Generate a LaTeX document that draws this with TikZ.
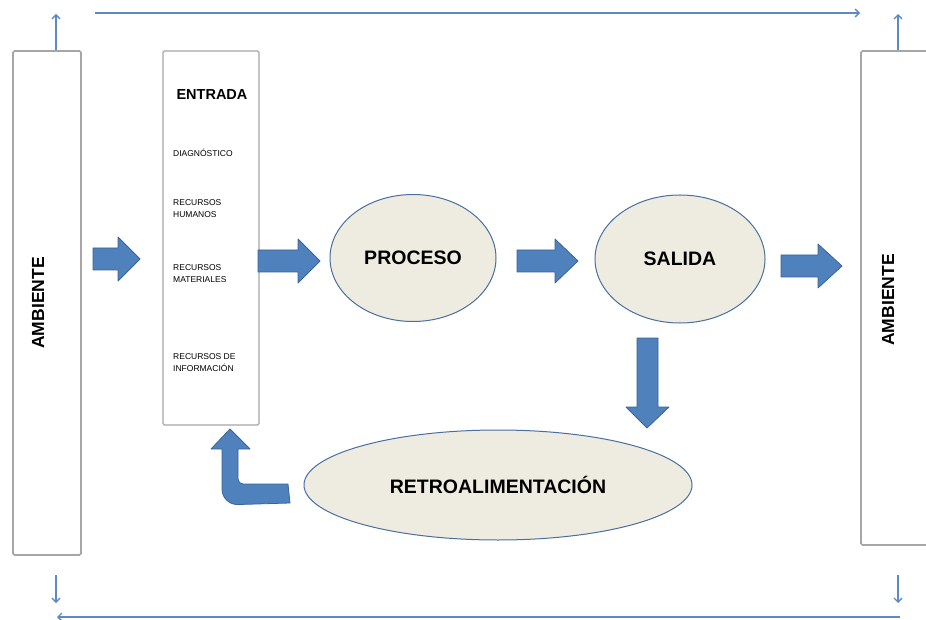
\documentclass[tikz,border=0pt]{standalone}
\usepackage{fontspec}
\setmainfont{Liberation Sans}
\usetikzlibrary{arrows.meta,shapes.geometric,calc}
\definecolor{arrfill}{HTML}{4F81BD}
\definecolor{arrdraw}{HTML}{3A6494}
\definecolor{ellfill}{HTML}{EEECE1}
\definecolor{elldraw}{HTML}{4A6EA0}
\definecolor{boxgray}{HTML}{A6A6A6}
\definecolor{linblue}{HTML}{5B8AC6}
\newcommand\barrowR[4]{\draw[barrow] (#1,{#4-11}) -- (#3,{#4-11}) -- (#3,{#4-22}) -- (#2,#4) -- (#3,{#4+22}) -- (#3,{#4+11}) -- (#1,{#4+11}) -- cycle;}
\begin{document}
\begin{tikzpicture}[x=1pt,y=-1pt,
  ambox/.style={draw=boxgray,line width=1.6pt,rounded corners=1.5pt,fill=white,minimum width=#1,inner sep=0pt},
  ell/.style={ellipse,draw=elldraw,line width=1pt,fill=ellfill,inner sep=0pt,font=\bfseries\fontsize{19.5}{21}\selectfont},
  barrow/.style={fill=arrfill,draw=arrdraw,line width=0.8pt,line join=round},
  thin/.style={draw=linblue,line width=1.3pt,-{Straight Barb[length=4pt,width=8pt]}},
  small/.style={anchor=west,font=\fontsize{8.5}{12}\selectfont,align=left,inner sep=0pt},
  amb/.style={rotate=90,font=\bfseries\fontsize{17.5}{19}\selectfont}]
\useasboundingbox (0,0) rectangle (926,620);
% ambient boxes
\node[ambox=68pt,minimum height=504pt] (amb1) at (47,303) {};
\node[amb] (ambt1) at (38,303) {AMBIENTE};
\node[ambox=72pt,minimum height=494pt] (amb2) at (897,298) {};
\node[amb] (ambt2) at (888,300) {AMBIENTE};
% entrada box
\node[ambox=96pt,minimum height=374pt,line width=1.2pt] (ent) at (211,238) {};
\node[font=\bfseries\fontsize{14.5}{16}\selectfont] (enttxt) at (212,95) {ENTRADA};
\node[small] (diag) at (173,153) {DIAGNÓSTICO};
\node[small] (rh) at (173,209) {RECURSOS\\HUMANOS};
\node[small] (rm) at (173,274) {RECURSOS\\MATERIALES};
\node[small] (ri) at (173,363) {RECURSOS DE\\INFORMACIÓN};
% ellipses
\node[ell,minimum width=166pt,minimum height=127pt] (proc) at (413,258) {PROCESO};
\node[ell,minimum width=170pt,minimum height=128pt] (sal) at (680,259) {SALIDA};
\node[ell,minimum width=388pt,minimum height=110pt] (retro) at (498,485) {RETROALIMENTACIÓN};
% block arrows
\barrowR{93}{140}{118}{259}
\barrowR{258}{320}{298}{261}
\barrowR{517}{578}{555}{261}
\barrowR{781}{842}{818}{266}
\draw[barrow] (637,338) -- (658,338) -- (658,407) -- (669,407) -- (647,428) -- (626,407) -- (637,407) -- cycle;
% curved return arrow
\draw[barrow] (288,484) [rounded corners=5pt] -- (238,484) [sharp corners] -- (238,449) -- (250,449) -- (230,429) -- (211,449) -- (222,449)
  [rounded corners=16pt] -- (222,505) [sharp corners] -- (290,503) -- cycle;
% thin arrows
\coordinate (upL) at (56,14);
\coordinate (upR) at (898,14);
\draw[thin] (amb1.north -| upL) -- (upL);
\draw[thin] (amb2.north -| upR) -- (upR);
\coordinate (tl) at (95,13);
\coordinate (tr) at (860,13);
\draw[thin] (tl) -- (tr);
\coordinate (dL1) at (56,575);
\coordinate (dL2) at (56,603);
\coordinate (dR1) at (898,575);
\coordinate (dR2) at (898,603);
\draw[thin] (dL1) -- (dL2);
\draw[thin] (dR1) -- (dR2);
\coordinate (bl) at (57,617);
\coordinate (br) at (900,617);
\draw[thin] (br) -- (bl);
\end{tikzpicture}
\end{document}
